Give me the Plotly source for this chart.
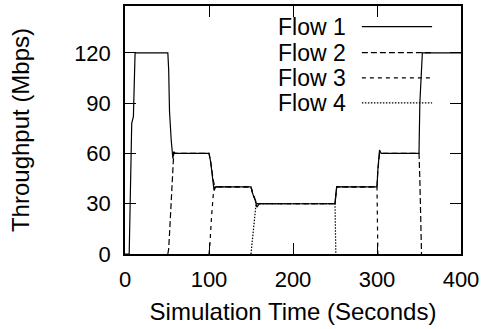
import plotly.graph_objects as go

# ---- data ----
flow1_t = [0, 5, 8, 10, 12, 51, 52, 53, 55, 57, 58, 60, 62, 100, 102, 105, 106, 108, 150, 152, 155, 157, 160,
           250, 251, 252, 254, 300, 301, 303, 305, 350, 351, 354, 400]
flow1_v = [0, 0, 78, 82, 120, 120, 110, 85, 68, 57, 61, 60, 60, 60, 55, 44, 38, 40, 40, 36, 32, 28, 30,
           30, 36, 40, 40, 40, 50, 62, 60, 60, 90, 120, 120]

flow2_t = [51, 52, 53, 55, 57, 58, 60, 100, 102, 105, 107, 150, 152, 155, 157, 250, 251, 252, 300, 301, 303, 350, 351, 352, 353]
flow2_v = [0, 3, 12, 32, 55, 60, 60, 60, 55, 44, 40, 40, 36, 32, 30, 30, 36, 40, 40, 50, 60, 60, 45, 15, 0]

flow3_t = [100, 101, 103, 105, 107, 150, 152, 155, 157, 250, 251, 252, 300, 301]
flow3_v = [0, 5, 22, 35, 40, 40, 36, 32, 30, 30, 36, 40, 40, 0]

flow4_t = [150, 151, 153, 155, 156, 250, 251]
flow4_v = [0, 5, 18, 27, 30, 30, 0]

series_names = ["Flow 1", "Flow 2", "Flow 3", "Flow 4"]
x_ticks = [0, 100, 200, 300, 400]
y_ticks = [0, 30, 60, 90, 120]

FONT = "Liberation Sans, Arial, sans-serif"
dashes = ["solid", "6px,3px", "4px,4px", "1.5px,1.5px"]
data = [(flow1_t, flow1_v), (flow2_t, flow2_v), (flow3_t, flow3_v), (flow4_t, flow4_v)]

fig = go.Figure()
# draw later flows first so Flow 1 (solid) sits on top
for i in [3, 2, 1, 0]:
    t, v = data[i]
    fig.add_trace(go.Scatter(x=t, y=v, mode="lines", name=series_names[i],
                             line=dict(color="black", width=1.2, dash=dashes[i]),
                             showlegend=False, hoverinfo="skip"))

# custom key: text on the left, line sample on the right (gnuplot style)
key_y = [0.917, 0.812, 0.710, 0.609]
for i, name in enumerate(series_names):
    fig.add_annotation(x=0.664, y=key_y[i], xref="paper", yref="paper", text=name,
                       showarrow=False, xanchor="right", yanchor="middle",
                       font=dict(family=FONT, size=23, color="black"))
    fig.add_shape(type="line", xref="paper", yref="paper", x0=0.705, x1=0.914,
                  y0=key_y[i], y1=key_y[i],
                  line=dict(color="black", width=1.2, dash=dashes[i]))

axis_common = dict(showgrid=False, zeroline=False, showline=True, linecolor="black", linewidth=1.5,
                   mirror="allticks", ticks="inside", ticklen=11, tickwidth=1.2, tickcolor="black",
                   tickfont=dict(family=FONT, size=22, color="black"))

fig.update_xaxes(range=[0, 400], tickvals=x_ticks, ticklabelstandoff=5,
                 title=dict(text="Simulation Time (Seconds)", font=dict(family=FONT, size=24, color="black"),
                            standoff=12),
                 **axis_common)
fig.update_yaxes(range=[0, 148], tickvals=y_ticks, ticklabelstandoff=8,
                 title=dict(text="Throughput (Mbps)", font=dict(family=FONT, size=24, color="black"),
                            standoff=38),
                 **axis_common)

fig.update_layout(width=489, height=329, margin=dict(l=125, r=28, t=6, b=75, autoexpand=False),
                  plot_bgcolor="white", paper_bgcolor="white",
                  font=dict(family=FONT, color="black"))

fig.write_html("out.html", config={"displayModeBar": False},
               post_script="document.body.style.margin='0';")
